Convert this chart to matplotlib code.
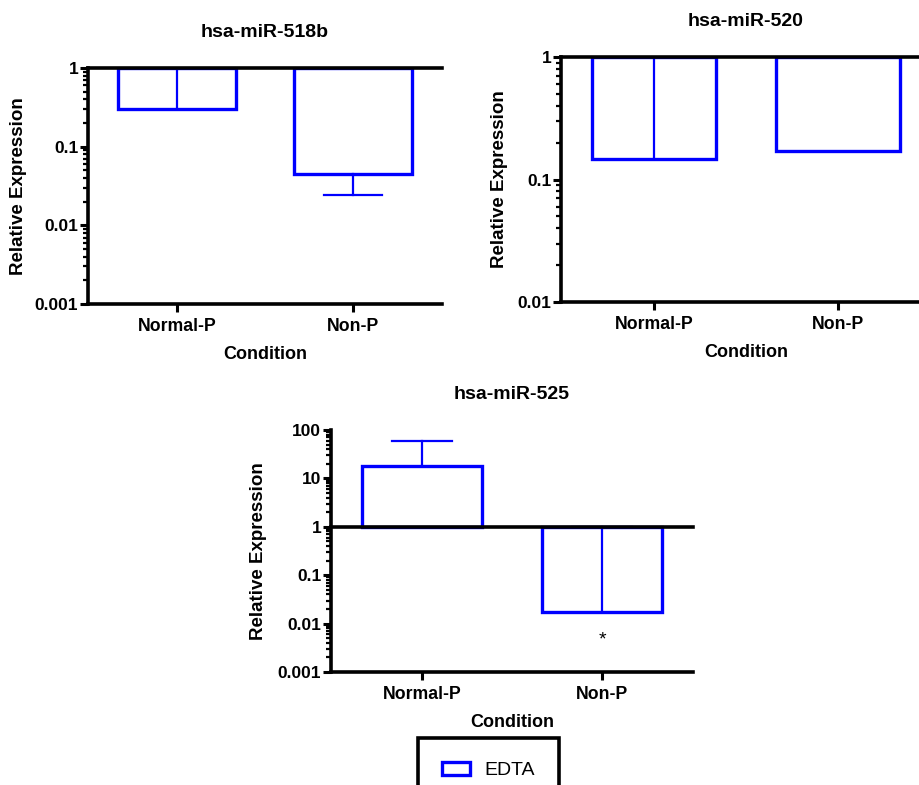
import numpy as np
import matplotlib
matplotlib.use("Agg")
from matplotlib import pyplot as plt
from matplotlib.ticker import LogLocator, FuncFormatter, NullFormatter
from matplotlib.patches import Patch

plt.rcParams['font.family'] = ['Liberation Sans', 'DejaVu Sans']
plt.rcParams['font.weight'] = 'bold'

conditions = ["Normal-P", "Non-P"]

titles = ["hsa-miR-518b", "hsa-miR-520", "hsa-miR-525"]
# mean relative expression per condition
vals_518b = [0.30, 0.045]
vals_520 = [0.147, 0.171]
vals_525 = [18.0, 0.0174]
# end point of the error bar (nan = no bar shown)
err_518b = [1.0, 0.024]
err_520 = [1.0, np.nan]
err_525 = [59.0, 1.0]
ylims = [(0.001, 1), (0.01, 1), (0.001, 100)]
star_525 = [np.nan, 0.0046]

BLUE = "#0000FF"

fig = plt.figure(figsize=(9.2, 7.85), dpi=100)
W, H = 920.0, 785.0

def box(l, t, r, b):
    return [l / W, 1 - b / H, (r - l) / W, (b - t) / H]

axes = [
    fig.add_axes(box(88, 68, 442, 304)),
    fig.add_axes(box(561, 57, 931, 302)),
    fig.add_axes(box(331, 430, 693, 672)),
]
# right edge (px) of the rotated y label
ylab_x = [27, 508, 267]

def fmt(v, pos):
    return "{:g}".format(v)

data = [(vals_518b, err_518b), (vals_520, err_520), (vals_525, err_525)]
x = np.arange(len(conditions))
bw = 0.67

for i, ax in enumerate(axes):
    vals, errs = data[i]
    ax.set_yscale("log")
    ax.set_ylim(*ylims[i])
    ax.set_xlim(-0.505, 1.505)
    heights = [v - 1 for v in vals]
    ax.bar(x, heights, bottom=1, width=bw, facecolor="none",
           edgecolor=BLUE, linewidth=2.4, zorder=2)
    for xi, v, e in zip(x, vals, errs):
        if np.isnan(e):
            continue
        ax.plot([xi, xi], [v, e], color=BLUE, lw=1.6, zorder=2)
        ax.plot([xi - 0.165, xi + 0.165], [e, e], color=BLUE, lw=1.6, zorder=2)
    ax.axhline(1, color="black", lw=2.6, zorder=5, clip_on=False)

    for s in ["top", "right"]:
        ax.spines[s].set_visible(False)
    for s in ["left", "bottom"]:
        ax.spines[s].set_linewidth(2.6)

    ax.yaxis.set_major_locator(LogLocator(base=10, numticks=20))
    ax.yaxis.set_minor_locator(LogLocator(base=10, subs=np.arange(2, 10), numticks=20))
    ax.yaxis.set_major_formatter(FuncFormatter(fmt))
    ax.yaxis.set_minor_formatter(NullFormatter())
    ax.tick_params(axis="y", which="major", length=6, width=2.2, labelsize=12.5, pad=1)
    ax.tick_params(axis="y", which="minor", length=3.5, width=1.6)
    ax.tick_params(axis="x", which="major", length=6, width=2.2, labelsize=12.7, pad=4)
    ax.set_xticks(x)
    ax.set_xticklabels(conditions)
    for lab in ax.get_xticklabels() + ax.get_yticklabels():
        lab.set_fontweight("bold")

    ax.set_title(titles[i], fontsize=14, fontweight="bold", pad=22)
    ax.set_xlabel("Condition", fontsize=13, fontweight="bold", labelpad=8)
    ax.set_ylabel("Relative Expression", fontsize=13.5, fontweight="bold")
    pos = ax.get_position()
    ax.yaxis.set_label_coords((ylab_x[i] - pos.x0 * W) / (pos.width * W), 0.5)

for xi, s in zip(x, star_525):
    if not np.isnan(s):
        axes[2].text(xi, s, "*", ha="center", va="center", fontsize=14, fontweight="normal")

handles = [Patch(facecolor="none", edgecolor=BLUE, linewidth=2.4, label="EDTA")]
leg = fig.legend(handles=handles, loc="upper left", bbox_to_anchor=(418 / W, 1 - 738 / H),
                 frameon=True, fancybox=False, edgecolor="black", framealpha=1,
                 borderaxespad=0, borderpad=1.25, handlelength=1.4, handleheight=0.6,
                 handletextpad=0.75,
                 prop={"family": "Liberation Sans", "weight": "normal", "size": 14})
leg.get_frame().set_linewidth(2.6)

fig.savefig("out.png", dpi=100)
